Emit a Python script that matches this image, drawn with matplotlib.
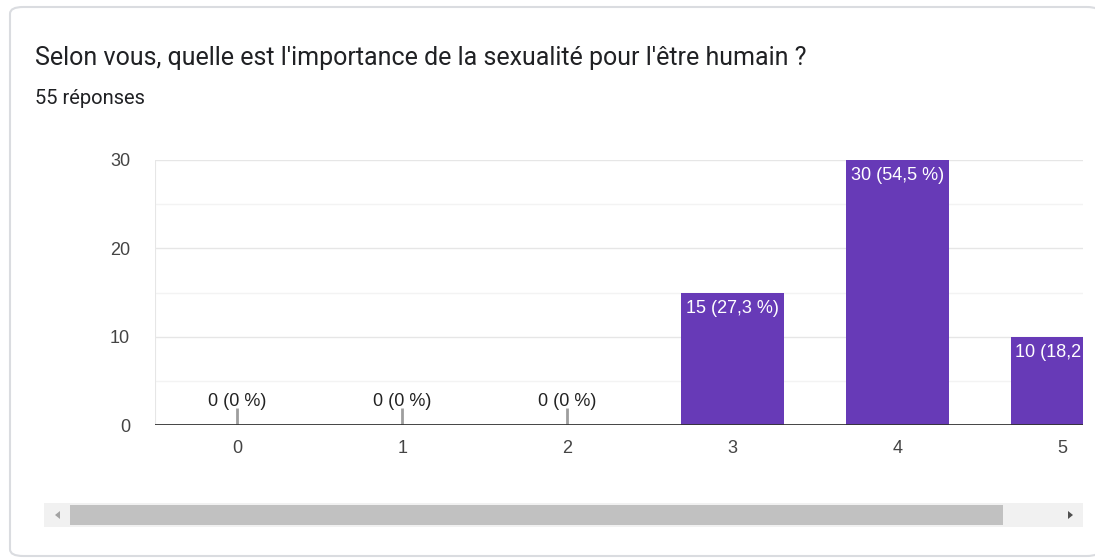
import matplotlib.pyplot as plt
from matplotlib.patches import FancyBboxPatch, Rectangle, Polygon

# data
categories = [0, 1, 2, 3, 4, 5]
counts = [0, 0, 0, 15, 30, 10]
labels = ["0 (0 %)", "0 (0 %)", "0 (0 %)", "15 (27,3 %)", "30 (54,5 %)", "10 (18,2 %)"]
y_ticks = [0, 10, 20, 30]

title = "Selon vous, quelle est l'importance de la sexualité pour l'être humain ?"
subtitle = "55 réponses"

W, H = 1095, 559
purple = "#673ab7"
font = ["Liberation Sans", "DejaVu Sans"]

fig = plt.figure(figsize=(W / 100, H / 100), dpi=100)


def fx(px):
    return px / W


def fy(py):
    return 1 - py / H


# card outline
card = FancyBboxPatch((fx(10), fy(556)), fx(1100) - fx(10), fy(7) - fy(556),
                      boxstyle="round,pad=0,rounding_size=0.012",
                      transform=fig.transFigure, facecolor="white",
                      edgecolor="#dadce0", lw=1.5, zorder=-5)
fig.patches.append(card)

fig.text(fx(35), fy(58), title, fontsize=18, family=["Roboto", "DejaVu Sans"],
         color="#202124", va="center", ha="left")
fig.text(fx(35), fy(98), subtitle, fontsize=14.5, family=["Roboto", "DejaVu Sans"],
         color="#202124", va="center", ha="left")

# chart area
ax = fig.add_axes([fx(155), fy(425), fx(1083) - fx(155), fy(160) - fy(425)])
ax.set_zorder(2)
ax.set_facecolor("none")
ax.set_xlim(-0.5, 5.127)
ax.set_ylim(0, 30)

for v in [5, 15, 25]:
    ax.axhline(v, color="#f3f3f3", lw=1, zorder=0)
for v in [10, 20, 30]:
    ax.axhline(v, color="#e6e6e6", lw=1, zorder=0)
ax.axvline(-0.5, color="#e6e6e6", lw=1.5, zorder=0)

bars = ax.bar(categories, counts, width=0.625, color=purple, zorder=2)

for x, c, lab in zip(categories, counts, labels):
    if c == 0:
        ax.plot([x, x], [0, 1.95], color="#9e9e9e", lw=2, zorder=3, solid_capstyle="butt")
        ax.text(x, 1.75, lab, ha="center", va="bottom", fontsize=13,
                family=font, color="#222222", zorder=4)
    else:
        t = ax.text(x, c - 0.8, lab, ha="center", va="top", fontsize=13,
                    family=font, color="white", zorder=4)
        t.set_clip_on(True)

ax.axhline(0, color="#333333", lw=2, zorder=5)

for s in ax.spines.values():
    s.set_visible(False)
ax.set_yticks(y_ticks)
ax.set_xticks(categories)
ax.tick_params(length=0, labelsize=13, colors="#444444", pad=11)
ax.tick_params(axis="y", pad=18)
for lab in ax.get_xticklabels() + ax.get_yticklabels():
    lab.set_family(font)

# scrollbar
fig.patches.append(Rectangle((fx(44), fy(527)), fx(1083) - fx(44), fy(503) - fy(527),
                             transform=fig.transFigure, facecolor="#f1f1f1",
                             edgecolor="none", zorder=1))
fig.patches.append(Rectangle((fx(70), fy(525)), fx(1003) - fx(70), fy(505) - fy(525),
                             transform=fig.transFigure, facecolor="#c1c1c1",
                             edgecolor="none", zorder=2))
fig.patches.append(Polygon([(fx(55), fy(515)), (fx(60), fy(511)), (fx(60), fy(519))],
                           closed=True, transform=fig.transFigure,
                           facecolor="#a3a3a3", edgecolor="none", zorder=3))
fig.patches.append(Polygon([(fx(1073), fy(515)), (fx(1068), fy(511)), (fx(1068), fy(519))],
                           closed=True, transform=fig.transFigure,
                           facecolor="#505050", edgecolor="none", zorder=3))

fig.savefig("out.png", dpi=100)
